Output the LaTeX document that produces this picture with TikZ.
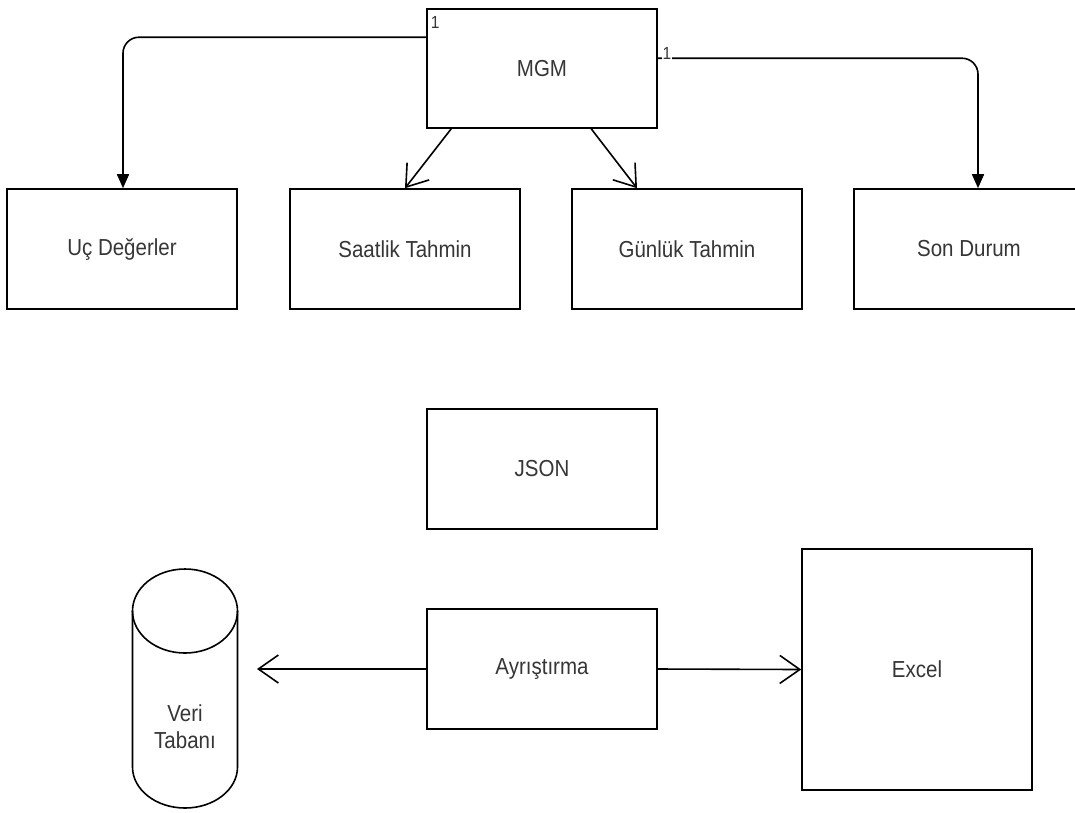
\documentclass[tikz,border=0pt]{standalone}
\usepackage{fontspec}
\usepackage{graphicx}
\setmainfont{Liberation Sans}
\usetikzlibrary{arrows.meta,calc}
\definecolor{txt}{HTML}{363636}
\newcommand{\tallt}[1]{\scalebox{1}[1.13]{#1}}
\tikzset{
  box/.style={draw=black, line width=1.6pt, minimum width=230pt, minimum height=120pt, inner sep=0pt,
    font=\fontsize{20.5}{24}\selectfont, text=txt},
  conn/.style={line width=1.6pt, draw=black},
  filledtip/.style={-{Triangle[length=14pt,width=12pt]}},
  opentip/.style={-{Straight Barb[length=20pt,width=28pt,line width=1.6pt]}},
  mult/.style={font=\fontsize{15.5}{17}\selectfont, text=txt, inner sep=1pt}
}
\begin{document}
\begin{tikzpicture}[x=1pt,y=-1pt]
\useasboundingbox (0,0) rectangle (1075,812);
\clip (0,0) rectangle (1075,812);
\fill[white] (0,0) rectangle (1075,812);

% top row
\node[box, minimum height=119pt] (mgm) at (542,68.5) {\tallt{MGM}};
\node[box] (uc) at (122,249) {\tallt{Uç Değerler}};
\node[box] (saat) at (405,249) {\tallt{Saatlik Tahmin}};
\node[box] (gun) at (687,249) {\tallt{Günlük Tahmin}};
\node[box] (son) at (969,249) {\tallt{Son Durum}};

% connectors top
\coordinate (mgmL) at ($(mgm.north west)+(0,29)$);
\coordinate (mgmR) at ($(mgm.north east)+(0,50)$);
\draw[conn, filledtip, rounded corners=16pt] (mgmL) -| ($(uc.north)+(1,0)$);
\draw[conn, filledtip, rounded corners=16pt] (mgmR) -| ($(son.north)+(9,0)$);
\coordinate (saatS) at ($(mgm.south west)+(25,0)$);
\coordinate (gunS) at ($(mgm.south west)+(165,0)$);
\coordinate (saatT) at (saat.north);
\coordinate (gunT) at ($(gun.north)+(-50,0)$);
\draw[conn, opentip] (saatS) -- (saatT);
\draw[conn, opentip] (gunS) -- (gunT);

\node[mult] (m1) at ($(mgm.north west)+(9,14)$) {\tallt{1}};
\node[mult, fill=white] (m2) at ($(mgm.north east)+(9,45)$) {\tallt{1}};

% bottom
\node[box] (json) at (542,469) {\tallt{JSON}};
\node[box] (ayr) at (542,669) {\tallt{Ayrıştırma}};
\node[box, minimum height=241pt] (excel) at (917,669.5) {\tallt{Excel}};

% cylinder
\node[minimum width=105pt, minimum height=239pt, inner sep=0pt] (db) at (185,688.5) {};
\draw[conn] (132.5,611) arc[start angle=180, end angle=-180, x radius=52.5, y radius=42];
\draw[conn] (132.5,611) -- (132.5,767) arc[start angle=180, end angle=0, x radius=52.5, y radius=41] -- (237.5,611);
\node[align=center, font=\fontsize{20.5}{27}\selectfont, text=txt] (dbt) at (185,727) {\tallt{Veri}\\\tallt{Tabanı}};

\coordinate (dbin) at (257,669);
\draw[conn, opentip] (ayr.west) -- (dbin);
\draw[conn, opentip] (ayr.east) -- (excel.west);
\end{tikzpicture}
\end{document}
